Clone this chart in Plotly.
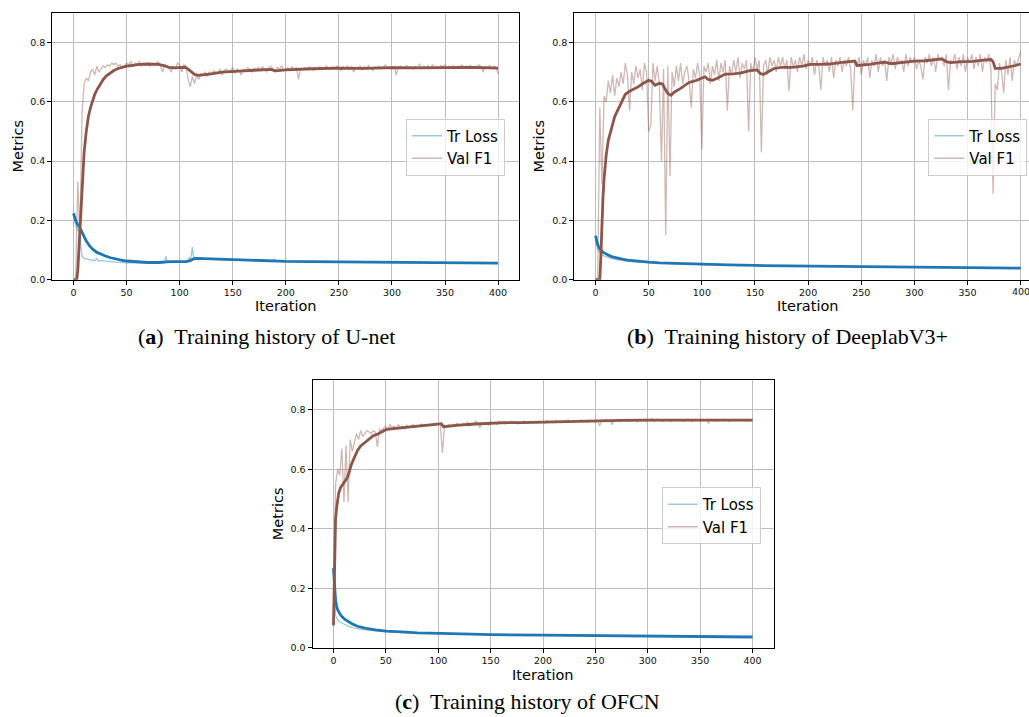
import plotly.graph_objects as go

# ---------------- data ----------------
x_tick_vals = [0, 50, 100, 150, 200, 250, 300, 350, 400]
x_tick_text = ["0", "50", "100", "150", "200", "250", "300", "350", "400"]
y_tick_vals = [0.0, 0.2, 0.4, 0.6, 0.8]
y_tick_text = ["0.0", "0.2", "0.4", "0.6", "0.8"]

series_names = ["Tr Loss", "Val F1"]
captions = ["(<b>a</b>)  Training history of U-net",
            "(<b>b</b>)  Training history of DeeplabV3+",
            "(<b>c</b>)  Training history of OFCN"]

raw_f1_iter = list(range(0, 401, 2))

# ---- (a) U-net ----
a_f1_raw = [
    0.0, 0.0, 0.33, 0.15, 0.56, 0.66, 0.68, 0.67, 0.70, 0.71,
    0.69, 0.72, 0.70, 0.71, 0.72, 0.715, 0.725, 0.72, 0.73, 0.725,
    0.73, 0.72, 0.725, 0.715, 0.72, 0.73, 0.725, 0.735, 0.72, 0.73,
    0.725, 0.735, 0.72, 0.73, 0.725, 0.73, 0.72, 0.728, 0.725, 0.73,
    0.735, 0.72, 0.70, 0.725, 0.72, 0.715, 0.70, 0.72, 0.71, 0.73,
    0.725, 0.70, 0.725, 0.72, 0.675, 0.65, 0.685, 0.66, 0.69, 0.675,
    0.695, 0.69, 0.70, 0.685, 0.70, 0.695, 0.705, 0.70, 0.695, 0.71,
    0.69, 0.705, 0.71, 0.70, 0.705, 0.715, 0.695, 0.71, 0.705, 0.69,
    0.71, 0.705, 0.715, 0.71, 0.70, 0.712, 0.708, 0.715, 0.705, 0.718,
    0.71, 0.70, 0.715, 0.72, 0.71, 0.70, 0.715, 0.71, 0.72, 0.705,
    0.71, 0.715, 0.705, 0.718, 0.71, 0.715, 0.675, 0.712, 0.708, 0.715,
    0.71, 0.718, 0.712, 0.705, 0.715, 0.71, 0.718, 0.712, 0.71, 0.72,
    0.715, 0.708, 0.718, 0.712, 0.72, 0.715, 0.705, 0.718, 0.712, 0.72,
    0.71, 0.718, 0.70, 0.716, 0.712, 0.72, 0.706, 0.718, 0.712, 0.722,
    0.714, 0.705, 0.718, 0.712, 0.72, 0.71, 0.718, 0.724, 0.712, 0.718,
    0.71, 0.72, 0.69, 0.716, 0.72, 0.712, 0.718, 0.722, 0.714, 0.718,
    0.71, 0.72, 0.716, 0.726, 0.712, 0.72, 0.715, 0.722, 0.71, 0.724,
    0.716, 0.72, 0.712, 0.722, 0.718, 0.724, 0.714, 0.72, 0.716, 0.722,
    0.712, 0.72, 0.718, 0.724, 0.714, 0.72, 0.716, 0.722, 0.712, 0.72,
    0.716, 0.724, 0.718, 0.70, 0.72, 0.716, 0.722, 0.714, 0.72, 0.716,
    0.695]
a_f1_smooth_iter = [0, 3, 4, 5, 6, 7, 8, 9, 10, 12, 14, 16, 18, 20, 22, 25, 28, 31, 34, 38,
                    42, 46, 50, 55, 60, 70, 80, 85, 90, 95, 100, 105, 108, 111, 114, 118, 122,
                    130, 140, 150, 160, 170, 180, 186, 190, 195, 200, 225, 250, 275, 300, 325,
                    350, 375, 400]
a_f1_smooth = [0.0, 0.0, 0.03, 0.1, 0.17, 0.25, 0.32, 0.38, 0.43, 0.5, 0.55, 0.58, 0.605, 0.625,
               0.64, 0.66, 0.675, 0.687, 0.696, 0.705, 0.712, 0.716, 0.72, 0.722, 0.725, 0.727,
               0.726, 0.722, 0.716, 0.714, 0.716, 0.716, 0.71, 0.70, 0.692, 0.689, 0.69, 0.694,
               0.70, 0.703, 0.704, 0.706, 0.708, 0.709, 0.704, 0.706, 0.707, 0.711, 0.713, 0.712,
               0.715, 0.714, 0.716, 0.716, 0.713]
a_loss_raw_iter = [0, 1, 2, 3, 4, 5, 6, 7, 8, 10, 12, 14, 16, 18, 20, 22, 23, 26, 30, 35, 40, 50,
                   60, 70, 80, 85, 86, 87, 88, 90, 95, 100, 105, 107, 109, 110, 111, 112, 113,
                   115, 120, 130, 150, 170, 185, 188, 189, 190, 200, 235, 236, 237, 270, 303,
                   304, 305, 325, 326, 327, 360, 400]
a_loss_raw = [0.22, 0.19, 0.18, 0.175, 0.165, 0.17, 0.14, 0.1, 0.08, 0.072, 0.07, 0.068, 0.066,
              0.065, 0.064, 0.072, 0.063, 0.064, 0.062, 0.06, 0.059, 0.057, 0.057, 0.056, 0.056,
              0.057, 0.062, 0.079, 0.065, 0.061, 0.06, 0.06, 0.061, 0.063, 0.075, 0.068, 0.082,
              0.11, 0.078, 0.073, 0.071, 0.069, 0.066, 0.064, 0.063, 0.064, 0.071, 0.063, 0.062,
              0.06, 0.063, 0.06, 0.059, 0.058, 0.062, 0.058, 0.058, 0.062, 0.058, 0.057, 0.055]
a_loss_smooth_iter = [0, 2, 4, 6, 8, 10, 12, 15, 18, 22, 26, 30, 35, 40, 45, 50, 60, 70, 80, 86,
                      88, 92, 100, 106, 110, 113, 116, 125, 140, 160, 180, 189, 192, 200, 250,
                      300, 325, 350, 400]
a_loss_smooth = [0.224, 0.2, 0.185, 0.175, 0.16, 0.145, 0.13, 0.115, 0.103, 0.092, 0.085, 0.08,
                 0.074, 0.069, 0.066, 0.063, 0.06, 0.058, 0.058, 0.058, 0.06, 0.061, 0.06, 0.061,
                 0.064, 0.07, 0.072, 0.071, 0.068, 0.066, 0.064, 0.064, 0.062, 0.062, 0.06, 0.059,
                 0.059, 0.058, 0.056]

# ---- (b) DeeplabV3+ ----
b_f1_raw = [
    0.0, 0.0, 0.58, 0.32, 0.62, 0.60, 0.67, 0.63, 0.69, 0.62,
    0.68, 0.65, 0.70, 0.66, 0.73, 0.69, 0.57, 0.70, 0.66, 0.72,
    0.68, 0.71, 0.64, 0.73, 0.70, 0.50, 0.52, 0.73, 0.67, 0.72,
    0.66, 0.40, 0.71, 0.15, 0.72, 0.35, 0.70, 0.65, 0.72, 0.67,
    0.73, 0.66, 0.70, 0.72, 0.67, 0.58, 0.71, 0.68, 0.73, 0.69,
    0.44, 0.72, 0.70, 0.73, 0.66, 0.72, 0.69, 0.74, 0.67, 0.73,
    0.70, 0.74, 0.57, 0.72, 0.69, 0.74, 0.70, 0.75, 0.68, 0.73,
    0.71, 0.74, 0.50, 0.73, 0.70, 0.75, 0.71, 0.74, 0.43, 0.72,
    0.74, 0.69, 0.75, 0.72, 0.74, 0.70, 0.75, 0.72, 0.75, 0.71,
    0.74, 0.635, 0.75, 0.72, 0.74, 0.70, 0.75, 0.72, 0.76, 0.71,
    0.74, 0.72, 0.75, 0.69, 0.74, 0.72, 0.64, 0.75, 0.72, 0.74,
    0.70, 0.75, 0.68, 0.74, 0.72, 0.75, 0.70, 0.74, 0.72, 0.75,
    0.71, 0.57, 0.74, 0.72, 0.75, 0.69, 0.74, 0.72, 0.75, 0.68,
    0.74, 0.72, 0.76, 0.70, 0.75, 0.72, 0.74, 0.67, 0.75, 0.73,
    0.76, 0.71, 0.75, 0.73, 0.74, 0.70, 0.76, 0.72, 0.75, 0.73,
    0.75, 0.71, 0.74, 0.72, 0.675, 0.75, 0.73, 0.76, 0.72, 0.75,
    0.70, 0.76, 0.74, 0.75, 0.72, 0.76, 0.64, 0.74, 0.73, 0.76,
    0.71, 0.75, 0.72, 0.76, 0.70, 0.75, 0.73, 0.76, 0.71, 0.75,
    0.72, 0.76, 0.70, 0.75, 0.73, 0.76, 0.71, 0.29, 0.66, 0.64,
    0.73, 0.70, 0.63, 0.74, 0.69, 0.75, 0.67, 0.74, 0.72, 0.75,
    0.77]
b_f1_smooth_iter = [0, 4, 5, 6, 7, 8, 9, 10, 12, 14, 16, 18, 20, 22, 24, 26, 28, 32, 36, 40, 45,
                    50, 53, 56, 60, 63, 65, 68, 71, 74, 80, 88, 95, 100, 103, 106, 110, 115, 122,
                    130, 137, 145, 152, 155, 158, 162, 168, 175, 185, 195, 202, 210, 220, 230,
                    240, 244, 246, 250, 258, 265, 272, 278, 288, 300, 310, 320, 326, 330, 334,
                    345, 355, 365, 372, 374, 376, 382, 388, 395, 400]
b_f1_smooth = [0.0, 0.0, 0.08, 0.2, 0.28, 0.34, 0.39, 0.42, 0.47, 0.5, 0.53, 0.55, 0.565, 0.58,
               0.595, 0.61, 0.625, 0.635, 0.642, 0.65, 0.662, 0.672, 0.668, 0.655, 0.662, 0.66,
               0.645, 0.628, 0.622, 0.632, 0.645, 0.665, 0.672, 0.68, 0.684, 0.675, 0.672, 0.68,
               0.693, 0.694, 0.697, 0.705, 0.707, 0.695, 0.692, 0.70, 0.712, 0.716, 0.716, 0.72,
               0.726, 0.726, 0.727, 0.732, 0.736, 0.737, 0.722, 0.723, 0.726, 0.73, 0.733, 0.728,
               0.733, 0.737, 0.738, 0.742, 0.744, 0.735, 0.732, 0.735, 0.736, 0.74, 0.742, 0.735,
               0.712, 0.712, 0.716, 0.722, 0.727]
b_loss_raw_iter = [0, 1, 2, 3, 4, 5, 7, 10, 13, 16, 20, 25, 30, 40, 50, 60, 75, 100, 125, 150,
                   175, 200, 250, 300, 350, 400]
b_loss_raw = [0.14, 0.12, 0.105, 0.098, 0.092, 0.088, 0.082, 0.077, 0.073, 0.07, 0.067, 0.064,
              0.062, 0.059, 0.057, 0.055, 0.054, 0.051, 0.049, 0.048, 0.047, 0.045, 0.044, 0.042,
              0.041, 0.04]
b_loss_smooth_iter = [0, 1, 2, 3, 4, 5, 7, 10, 13, 16, 20, 25, 30, 40, 50, 60, 75, 100, 125, 150,
                      175, 200, 250, 300, 350, 400]
b_loss_smooth = [0.148, 0.13, 0.118, 0.11, 0.104, 0.1, 0.093, 0.086, 0.081, 0.077, 0.073, 0.069,
                 0.066, 0.062, 0.059, 0.057, 0.055, 0.052, 0.05, 0.048, 0.047, 0.046, 0.044,
                 0.042, 0.041, 0.039]

# ---- (c) OFCN ----
c_f1_raw = [
    0.075, 0.55, 0.60, 0.58, 0.67, 0.49, 0.68, 0.49, 0.70, 0.66,
    0.69, 0.72, 0.70, 0.73, 0.71, 0.72, 0.73, 0.725, 0.72, 0.73,
    0.725, 0.675, 0.735, 0.73, 0.74, 0.745, 0.735, 0.75, 0.74, 0.745,
    0.738, 0.75, 0.74, 0.745, 0.735, 0.748, 0.74, 0.745, 0.75, 0.742,
    0.748, 0.745, 0.752, 0.744, 0.75, 0.748, 0.745, 0.752, 0.748, 0.755,
    0.75, 0.752, 0.655, 0.745, 0.742, 0.75, 0.745, 0.752, 0.748, 0.755,
    0.75, 0.745, 0.755, 0.75, 0.758, 0.745, 0.755, 0.75, 0.762, 0.752,
    0.74, 0.758, 0.752, 0.755, 0.748, 0.76, 0.755, 0.758, 0.75, 0.762,
    0.755, 0.76, 0.752, 0.758, 0.755, 0.762, 0.756, 0.76, 0.752, 0.758,
    0.755, 0.762, 0.758, 0.755, 0.762, 0.756, 0.76, 0.754, 0.762, 0.757,
    0.76, 0.755, 0.764, 0.758, 0.762, 0.756, 0.765, 0.758, 0.762, 0.756,
    0.764, 0.76, 0.766, 0.758, 0.762, 0.757, 0.764, 0.76, 0.766, 0.758,
    0.763, 0.757, 0.765, 0.76, 0.764, 0.758, 0.766, 0.745, 0.766, 0.762,
    0.768, 0.76, 0.765, 0.75, 0.766, 0.762, 0.768, 0.76, 0.766, 0.762,
    0.768, 0.76, 0.765, 0.762, 0.768, 0.758, 0.766, 0.762, 0.768, 0.76,
    0.766, 0.762, 0.77, 0.76, 0.768, 0.763, 0.768, 0.76, 0.766, 0.763,
    0.768, 0.76, 0.766, 0.762, 0.768, 0.763, 0.766, 0.76, 0.768, 0.764,
    0.767, 0.76, 0.768, 0.763, 0.767, 0.76, 0.768, 0.764, 0.766, 0.755,
    0.768, 0.762, 0.767, 0.76, 0.768, 0.763, 0.768, 0.762, 0.767, 0.76,
    0.768, 0.764, 0.767, 0.762, 0.768, 0.763, 0.767, 0.76, 0.768, 0.763,
    0.765]
c_f1_smooth_iter = [0, 1, 2, 3, 4, 5, 7, 9, 11, 13, 15, 17, 20, 23, 26, 30, 34, 38, 42, 46, 50,
                    55, 62, 70, 80, 90, 100, 103, 105, 110, 120, 135, 150, 165, 180, 200, 225,
                    250, 275, 300, 325, 350, 375, 400]
c_f1_smooth = [0.075, 0.3, 0.43, 0.47, 0.5, 0.52, 0.54, 0.55, 0.56, 0.57, 0.59, 0.615, 0.64,
               0.663, 0.678, 0.69, 0.703, 0.713, 0.718, 0.727, 0.733, 0.736, 0.738, 0.741, 0.745,
               0.748, 0.752, 0.753, 0.743, 0.744, 0.748, 0.752, 0.755, 0.757, 0.757, 0.759,
               0.761, 0.763, 0.764, 0.765, 0.765, 0.766, 0.766, 0.765]
c_loss_raw_iter = [0, 1, 2, 3, 5, 8, 11, 15, 20, 25, 30, 40, 50, 65, 80, 103, 125, 150, 190, 192,
                   195, 250, 300, 350, 400]
c_loss_raw = [0.26, 0.15, 0.11, 0.1, 0.09, 0.083, 0.077, 0.071, 0.066, 0.062, 0.06, 0.057, 0.054,
              0.051, 0.049, 0.047, 0.046, 0.044, 0.043, 0.045, 0.043, 0.04, 0.038, 0.037, 0.035]
c_loss_smooth_iter = [0, 1, 2, 3, 4, 6, 8, 11, 14, 18, 23, 30, 40, 50, 65, 80, 103, 125, 150,
                      200, 250, 300, 350, 400]
c_loss_smooth = [0.267, 0.2, 0.16, 0.14, 0.128, 0.115, 0.105, 0.095, 0.088, 0.08, 0.072, 0.066,
                 0.06, 0.056, 0.053, 0.05, 0.048, 0.046, 0.044, 0.042, 0.04, 0.038, 0.037, 0.036]

# ---------------- layout helpers ----------------
W, H = 1029, 717


def fx(p):
    return p / W


def fy(p):
    return 1 - p / H


LOSS_RAW = "rgba(31,119,180,0.42)"
F1_RAW = "rgba(140,86,75,0.42)"
LOSS = "#1f77b4"
F1 = "#8c564b"
FONT = "DejaVu Sans"
TICKFONT = dict(family=FONT, size=9.5, color="#111")

panels = [
    dict(sfx="", legend="legend",
         xdom=[fx(52.3), fx(519.3)], ydom=[fy(279.7), fy(12.7)], xr=[-20, 420], mirror_y=True,
         data=(a_loss_raw_iter, a_loss_raw, raw_f1_iter, a_f1_raw,
               a_loss_smooth_iter, a_loss_smooth, a_f1_smooth_iter, a_f1_smooth),
         leg=(406, 118.5), ylab=(18.3, 146.2), xlab=(285.7, 306), cap=(266, 337)),
    dict(sfx="2", legend="legend2",
         xdom=[fx(574.3), 1.0], ydom=[fy(279.7), fy(12.7)], xr=[-20, 407.8], mirror_y=False,
         data=(b_loss_raw_iter, b_loss_raw, raw_f1_iter, b_f1_raw,
               b_loss_smooth_iter, b_loss_smooth, b_f1_smooth_iter, b_f1_smooth),
         leg=(928.3, 118.5), ylab=(539.3, 146.2), xlab=(807.7, 306), cap=(787, 337)),
    dict(sfx="3", legend="legend3",
         xdom=[fx(312.5), fx(773.5)], ydom=[fy(647.7), fy(380)], xr=[-20, 420], mirror_y=True,
         data=(c_loss_raw_iter, c_loss_raw, raw_f1_iter, c_f1_raw,
               c_loss_smooth_iter, c_loss_smooth, c_f1_smooth_iter, c_f1_smooth),
         leg=(661.7, 487), ylab=(278.3, 513.9), xlab=(543, 675), cap=(527, 701)),
]

fig = go.Figure()
annotations = []
layout_upd = {}

for p, cap in zip(panels, captions):
    s = p["sfx"]
    xa, ya = "x" + s, "y" + s
    lr_x, lr_y, fr_x, fr_y, ls_x, ls_y, fs_x, fs_y = p["data"]
    fig.add_trace(go.Scatter(x=lr_x, y=lr_y, mode="lines", name=series_names[0],
                             line=dict(color=LOSS_RAW, width=1.3), xaxis=xa, yaxis=ya,
                             legend=p["legend"]))
    fig.add_trace(go.Scatter(x=fr_x, y=fr_y, mode="lines", name=series_names[1],
                             line=dict(color=F1_RAW, width=1.3), xaxis=xa, yaxis=ya,
                             legend=p["legend"]))
    fig.add_trace(go.Scatter(x=ls_x, y=ls_y, mode="lines", showlegend=False,
                             line=dict(color=LOSS, width=2.8), xaxis=xa, yaxis=ya))
    fig.add_trace(go.Scatter(x=fs_x, y=fs_y, mode="lines", showlegend=False,
                             line=dict(color=F1, width=2.8), xaxis=xa, yaxis=ya))

    common = dict(showline=True, linecolor="black", linewidth=1, ticks="outside", ticklen=4,
                  tickwidth=1, tickcolor="black", showgrid=True, gridcolor="#bdbdbd",
                  gridwidth=1, zeroline=False, tickfont=TICKFONT,
                  automargin=False, fixedrange=True)
    layout_upd["xaxis" + s] = dict(domain=p["xdom"], range=p["xr"], anchor=ya, mirror=True,
                                   tickmode="array", tickvals=x_tick_vals, ticktext=x_tick_text,
                                   **common)
    layout_upd["yaxis" + s] = dict(domain=p["ydom"], range=[0, 0.9], anchor=xa,
                                   mirror=p["mirror_y"], tickmode="array",
                                   tickvals=y_tick_vals, ticktext=y_tick_text, **common)
    layout_upd[p["legend"]] = dict(x=fx(p["leg"][0]), y=fy(p["leg"][1]), xanchor="left",
                                   yanchor="top", bgcolor="rgba(255,255,255,0.8)",
                                   bordercolor="#cccccc", borderwidth=1,
                                   font=dict(family=FONT, size=15, color="black"),
                                   itemwidth=30)
    annotations.append(dict(text="Metrics", x=fx(p["ylab"][0]), y=fy(p["ylab"][1]),
                            xref="paper", yref="paper", showarrow=False, textangle=-90,
                            xanchor="center", yanchor="middle",
                            font=dict(family=FONT, size=14.5, color="black")))
    annotations.append(dict(text="Iteration", x=fx(p["xlab"][0]), y=fy(p["xlab"][1]),
                            xref="paper", yref="paper", showarrow=False,
                            xanchor="center", yanchor="middle",
                            font=dict(family=FONT, size=14.5, color="black")))
    annotations.append(dict(text=cap, x=fx(p["cap"][0]), y=fy(p["cap"][1]),
                            xref="paper", yref="paper", showarrow=False,
                            xanchor="center", yanchor="middle",
                            font=dict(family="Liberation Serif", size=22, color="black")))

# the last tick label of panel (b) runs past the page edge; plotly drops it, so draw it as text
annotations.append(dict(text=x_tick_text[-1], x=x_tick_vals[-1], xref="x2",
                        y=fy(291.5), yref="paper", showarrow=False, xanchor="center",
                        yanchor="middle", font=TICKFONT))

fig.update_layout(**layout_upd)
fig.update_layout(width=W, height=H, margin=dict(l=0, r=0, t=0, b=0, autoexpand=False),
                  paper_bgcolor="white", plot_bgcolor="white", annotations=annotations,
                  showlegend=True)

fig.write_html("out.html")
